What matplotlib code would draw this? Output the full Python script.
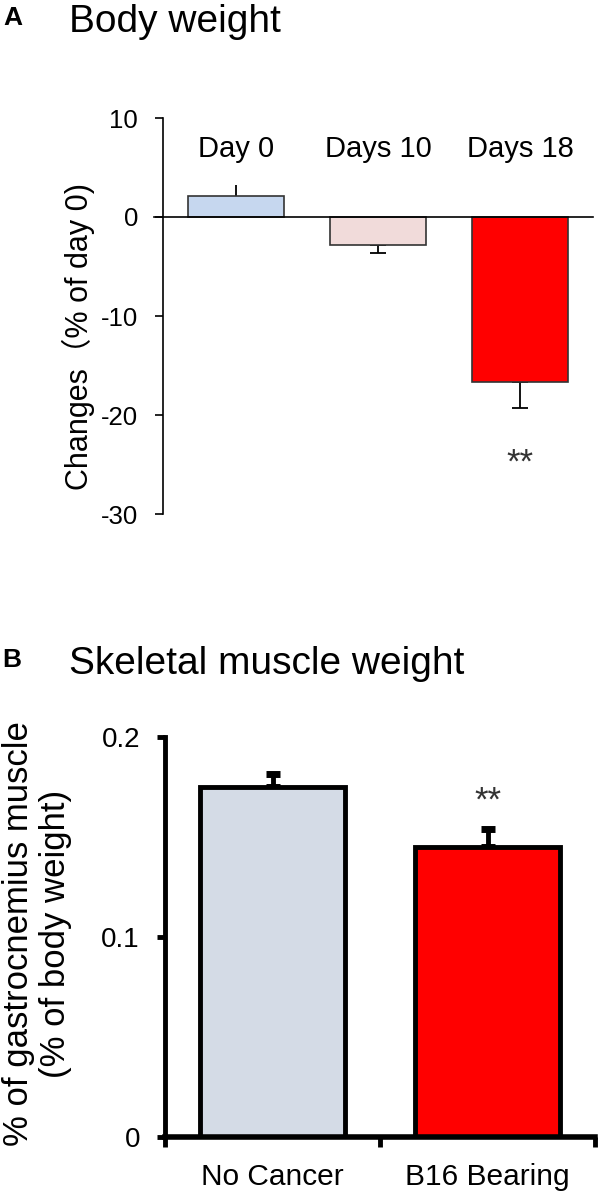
import matplotlib
matplotlib.use("Agg")
import matplotlib.pyplot as plt
import numpy as np

plt.rcParams['font.family'] = ['Liberation Sans', 'Noto Sans CJK SC', 'DejaVu Sans']

# panel A data: body weight change
days = ["Day 0", "Days 10", "Days 18"]
bw_change = [2.15, -2.86, -16.7]
bw_err = [1.05, 0.8, 2.6]
bw_caps = [0, 6, 6]
bw_colors = ["#c6d7ef", "#f1dbda", "#ff0000"]
bw_ticks = [10, 0, -10, -20, -30]

# panel B data: gastrocnemius weight
groups = ["No Cancer", "B16 Bearing"]
muscle = [0.175, 0.145]
muscle_err = [0.0065, 0.009]
muscle_colors = ["#d4dbe6", "#ff0000"]
muscle_ticks = [0, 0.1, 0.2]

W, H = 600, 1194
fig = plt.figure(figsize=(W / 100, H / 100), dpi=100)

# ---------- A ----------
axA = fig.add_axes([163 / W, 1 - 514 / H, 430 / W, 396 / H])
x = np.arange(len(days))
axA.bar(x, bw_change, width=0.676, color=bw_colors, edgecolor="#333333", linewidth=1.2, zorder=2)
for i in range(len(days)):
    sign = 1 if bw_change[i] > 0 else -1
    axA.errorbar(x[i], bw_change[i] + sign * bw_err[i] / 2, yerr=bw_err[i] / 2, fmt="none",
                 ecolor="black", elinewidth=1.3, capsize=bw_caps[i], capthick=1.3, zorder=1)
axA.axhline(0, color="black", linewidth=1.2, xmin=-0.02, clip_on=False, zorder=3)
axA.set_xlim(-0.514, 2.514)
axA.set_ylim(-30, 10)
axA.set_yticks(bw_ticks)
axA.set_yticklabels([str(t) for t in bw_ticks])
axA.set_xticks([])
for s in ["top", "right", "bottom"]:
    axA.spines[s].set_visible(False)
axA.spines["left"].set_linewidth(1.2)
axA.tick_params(axis="y", direction="out", length=6, width=1.2, labelsize=18.5, pad=12)
for i, d in enumerate(days):
    axA.text(x[i], 6.06, d, ha="center", va="baseline", fontsize=21)
axA.text(x[2], -24.9, "**", ha="center", va="center", fontsize=25, color="#333333")

fig.text(78 / W, 1 - 337 / H, "Changes（% of day 0)", rotation=90, ha="center", va="center", fontsize=22)
fig.text(3 / W, 1 - 25 / H, "A", fontsize=19, fontweight="bold", ha="left", va="baseline")
fig.text(69 / W, 1 - 32 / H, "Body weight", fontsize=28, ha="left", va="baseline")

# ---------- B ----------
axB = fig.add_axes([165 / W, 1 - 1137 / H, 430 / W, 400 / H])
xb = np.arange(len(groups))
axB.bar(xb, muscle, width=0.67, color=muscle_colors, edgecolor="black", linewidth=3.5, zorder=2)
for i in range(len(groups)):
    axB.errorbar(xb[i], muscle[i] + muscle_err[i] / 2, yerr=muscle_err[i] / 2, fmt="none",
                 ecolor="black", elinewidth=3.5, capsize=5, capthick=5, zorder=1)
axB.set_xlim(-0.5, 1.5)
axB.set_ylim(0, 0.2)
axB.set_yticks(muscle_ticks)
axB.set_yticklabels(["0", "0.1", "0.2"])
axB.set_xticks([-0.5, 0.5, 1.5])
axB.set_xticklabels([])
axB.tick_params(axis="x", direction="out", length=7, width=3.5)
axB.tick_params(axis="y", direction="out", length=6, width=3.5, labelsize=20, pad=12)
for s in ["top", "right"]:
    axB.spines[s].set_visible(False)
axB.spines["left"].set_linewidth(3.5)
axB.spines["bottom"].set_linewidth(4)
for i, g in enumerate(groups):
    axB.text(xb[i], -0.12, g, ha="center", va="baseline", fontsize=21.5,
             transform=axB.get_xaxis_transform())
axB.text(xb[1], 0.168, "**", ha="center", va="center", fontsize=25, color="#333333")

fig.text(37 / W, 1 - 934 / H, "% of gastrocnemius muscle\n(% of body weight)", rotation=90,
         ha="center", va="center", fontsize=25, linespacing=1.12, multialignment="center")
fig.text(2 / W, 1 - 667 / H, "B", fontsize=19, fontweight="bold", ha="left", va="baseline")
fig.text(69 / W, 1 - 674 / H, "Skeletal muscle weight", fontsize=28, ha="left", va="baseline")

fig.savefig("out.png", dpi=100)
